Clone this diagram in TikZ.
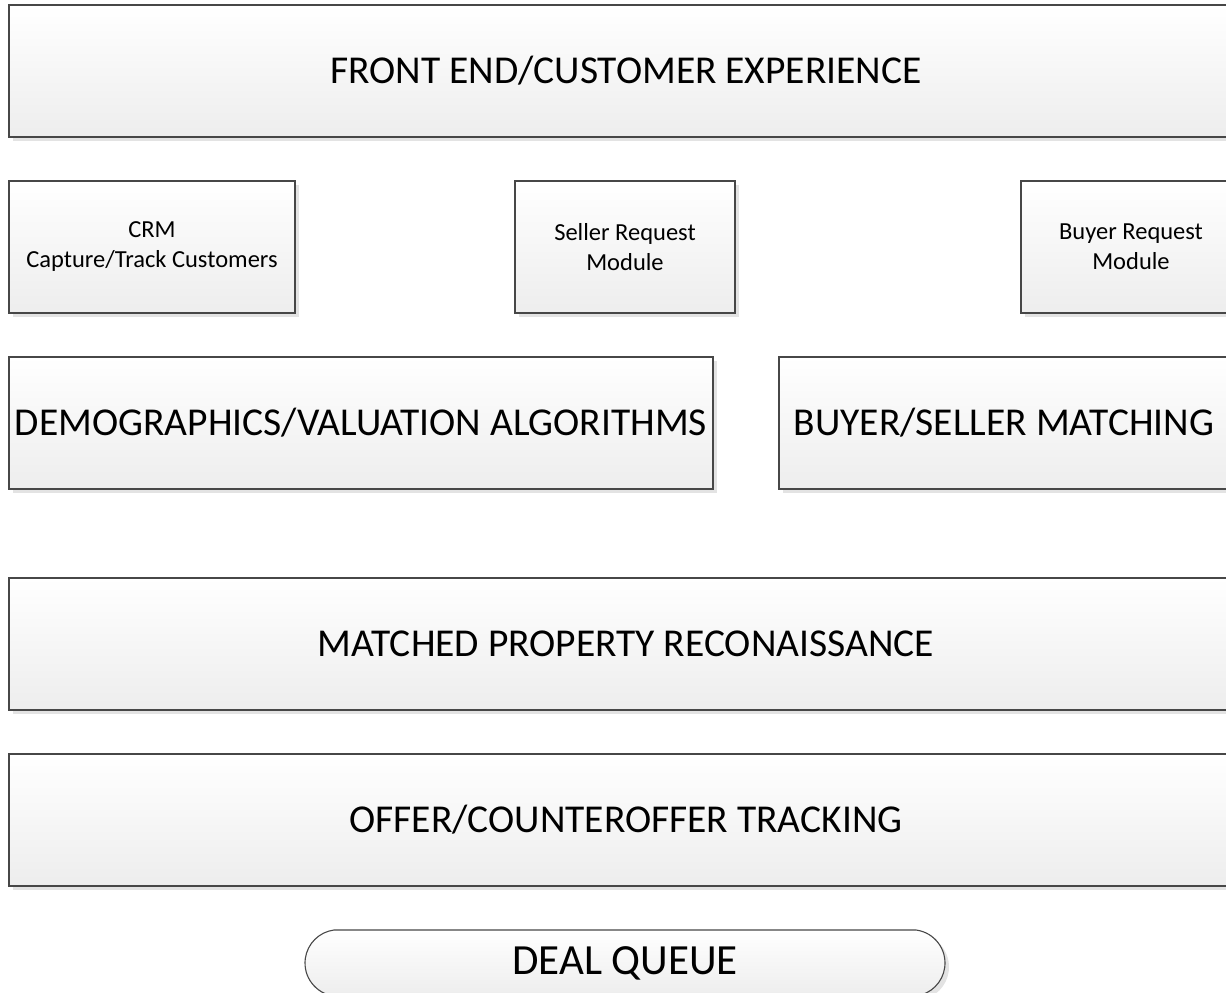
\documentclass[tikz,border=0pt]{standalone}
\usepackage{fontspec}
\setmainfont{Carlito}
\usetikzlibrary{shadows, shapes.misc}

\begin{document}
\begin{tikzpicture}[
  x=1pt, y=-1pt,
  panel/.style  = {draw=black!72, line width=1.1pt, top color=white, bottom color=black!7,
                   drop shadow={shadow xshift=4pt, shadow yshift=-4pt, fill=black!11, opacity=1},
                   inner sep=0pt, align=center, minimum height=132pt},
  layer/.style  = {panel, minimum width=1234pt, font=\fontsize{39.5}{46}\selectfont},
  half/.style   = {panel, font=\fontsize{39.5}{46}\selectfont},
  module/.style = {panel, font=\fontsize{24.5}{30}\selectfont},
  queue/.style  = {panel, rounded rectangle, rounded rectangle arc length=165,
                   minimum width=640pt, minimum height=66pt, font=\fontsize{43}{48}\selectfont},
]
\clip (0,0) rectangle (1226,993);

% ── Layers, top to bottom ────────────────────────────────────────────────────
\node[layer] (front) at (626,71) {FRONT END/CUSTOMER EXPERIENCE};

\node[module, minimum width=286pt] (crm)    at (152,247)  {CRM\\Capture/Track Customers};
\node[module, minimum width=220pt] (seller) at (625,247)  {Seller Request\\Module};
\node[module, minimum width=220pt] (buyer)  at (1131,247) {Buyer Request\\Module};

\node[half, minimum width=704pt] (demo)  at (361,423)  {DEMOGRAPHICS/VALUATION ALGORITHMS};
\node[half, minimum width=450pt] (match) at (1004,423) {BUYER/SELLER MATCHING};

\node[layer] (recon) at (626,644) {MATCHED PROPERTY RECONAISSANCE};
\node[layer] (offer) at (626,820) {OFFER/COUNTEROFFER TRACKING};

% ── Deal queue (runs off the bottom) ─────────────────────────────────────────
\node[queue] (deal) at (625,963) {DEAL QUEUE};
\end{tikzpicture}
\end{document}
